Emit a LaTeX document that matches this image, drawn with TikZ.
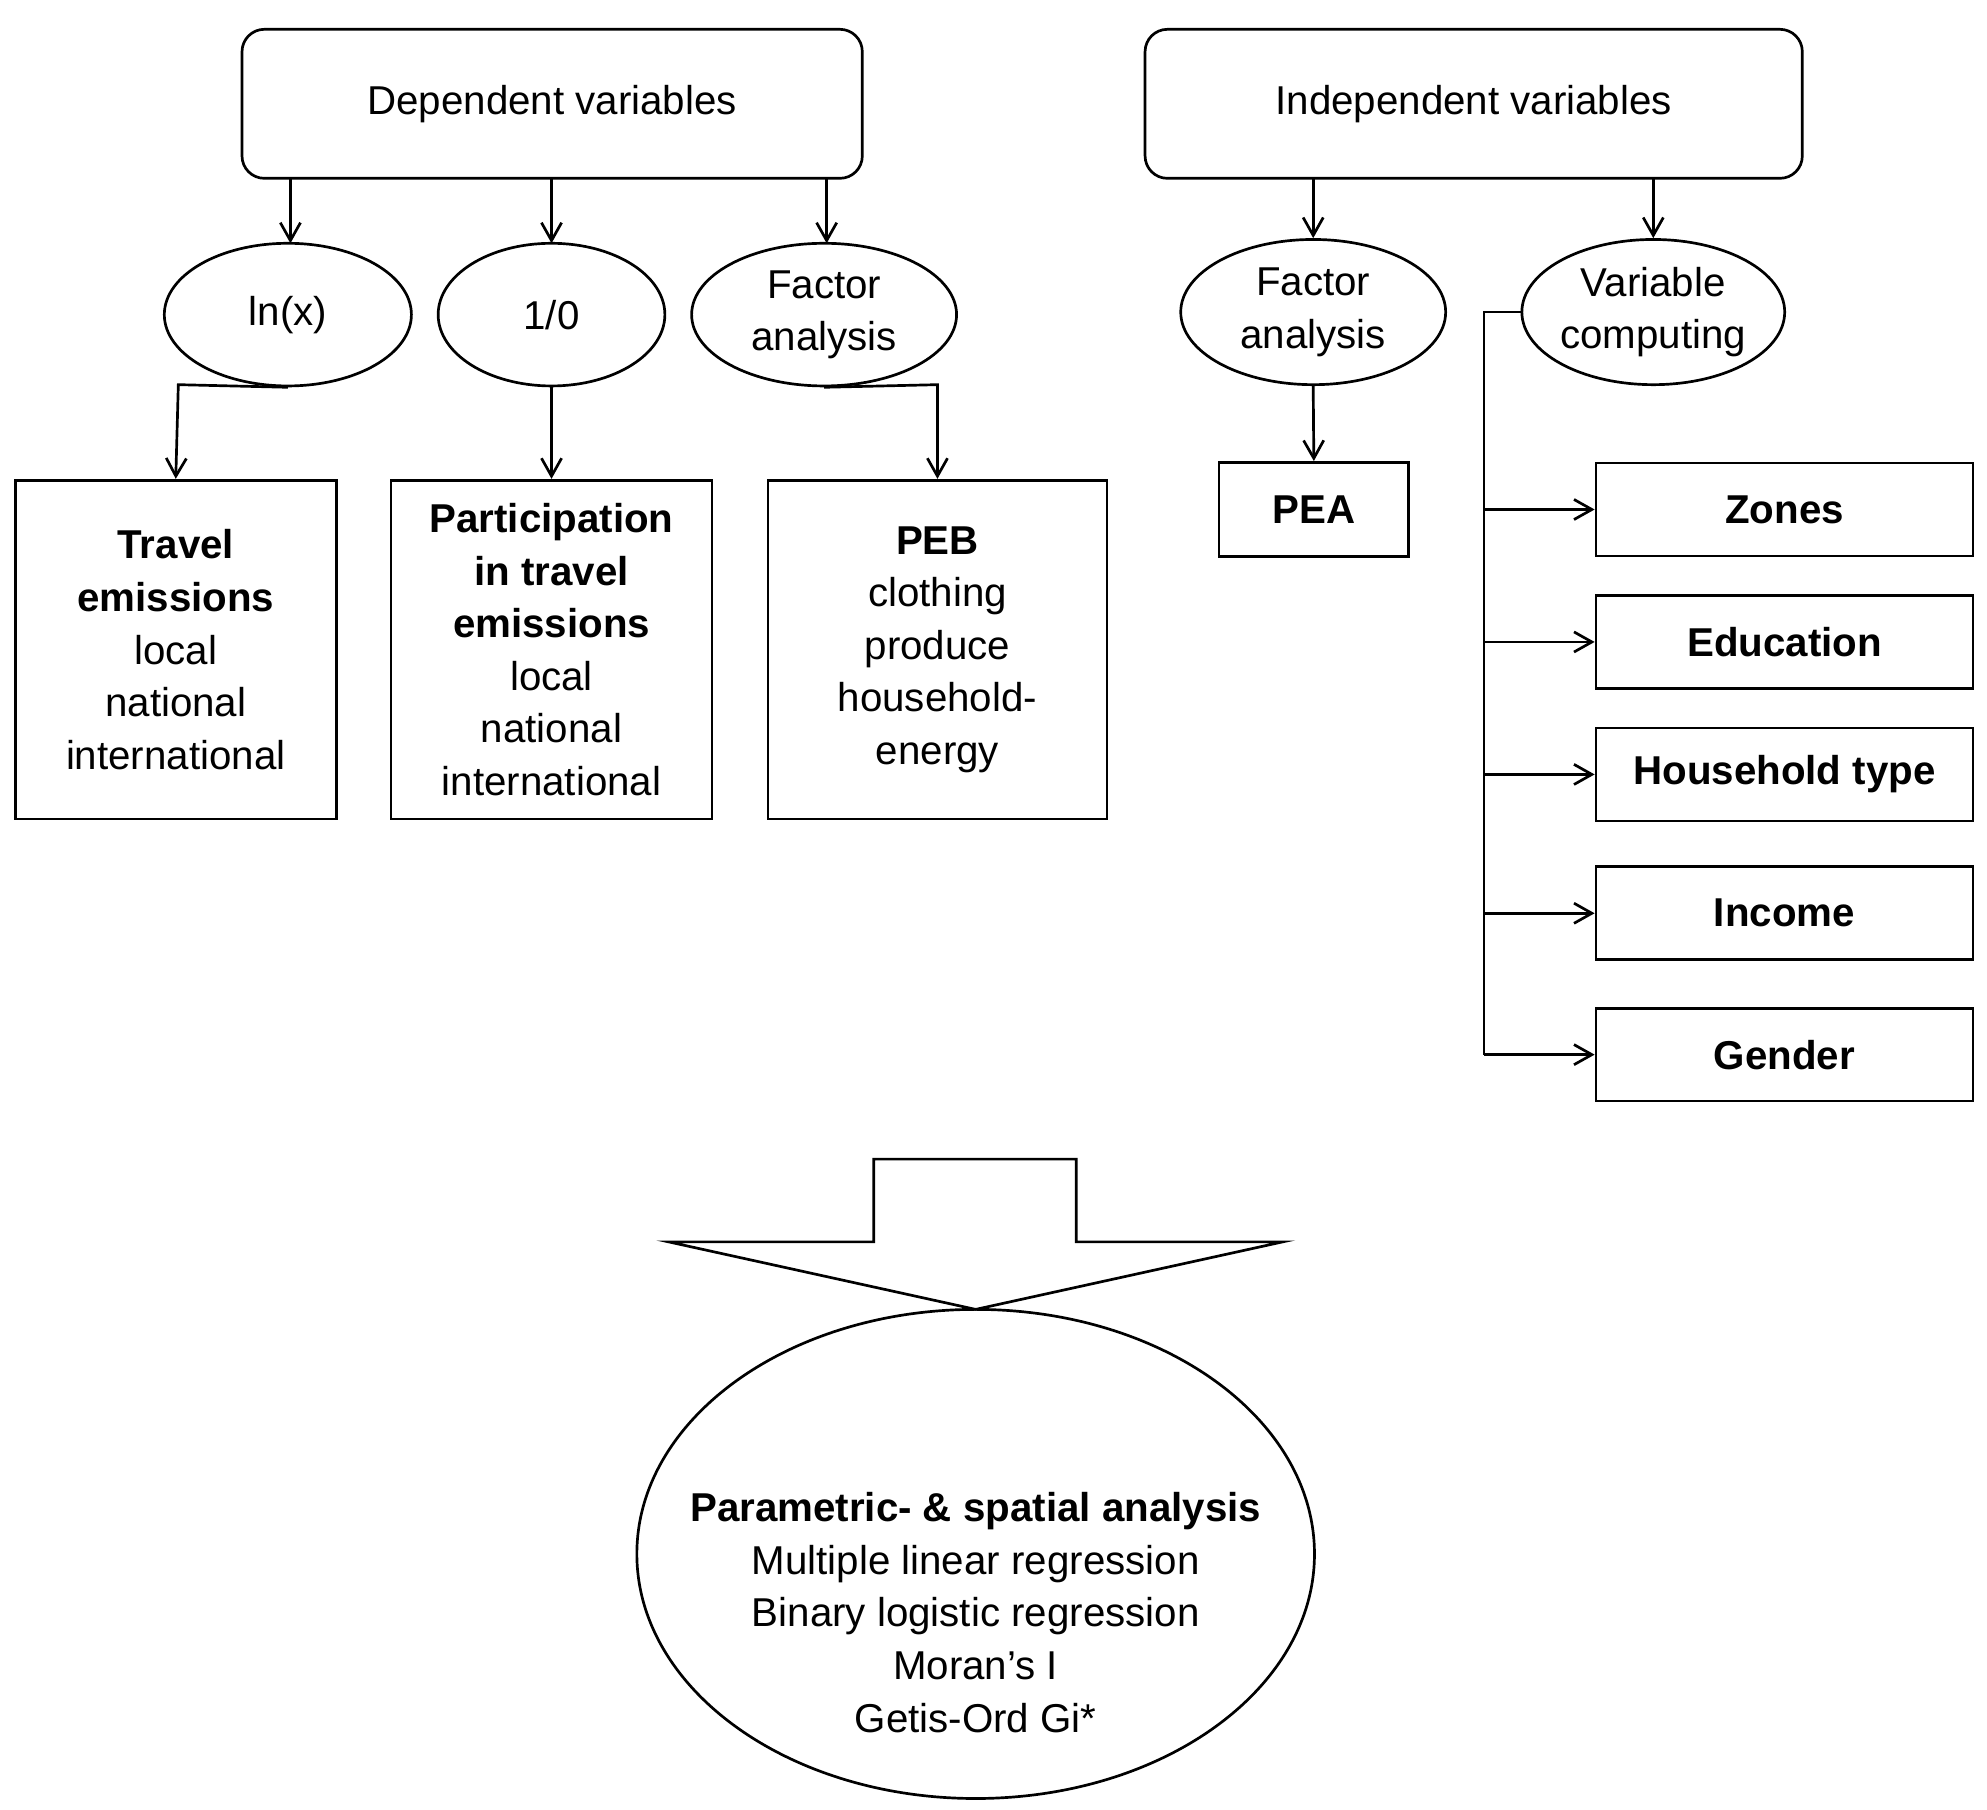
\documentclass[tikz,border=0pt]{standalone}
\usepackage{fontspec}
\setmainfont{Liberation Sans}
\usetikzlibrary{shapes.geometric,arrows.meta}
\begin{document}
\begin{tikzpicture}[x=0.02cm,y=-0.02cm,
  every node/.style={font=\fontsize{18}{23.5}\selectfont, align=center, inner sep=0pt},
  ln/.style={line width=1.2pt},
  arr/.style={ln,-{Straight Barb[length=8pt,width=9pt]}},
  ell/.style={ellipse,draw,line width=1.2pt},
  box/.style={draw,line width=1.2pt}]
\useasboundingbox (0,0) rectangle (1560,1421);
\node[box,rounded corners=10pt,minimum width=487*0.02cm,minimum height=117*0.02cm] (dep) at (433.5,81.5) {Dependent variables};
\node[box,rounded corners=10pt,minimum width=516*0.02cm,minimum height=117*0.02cm] (ind) at (1157,81.5) {Independent variables};
\node[ell,minimum width=194*0.02cm,minimum height=112*0.02cm] (e1) at (226,247) {ln(x)};
\node[ell,minimum width=178*0.02cm,minimum height=112*0.02cm] (e2) at (433,247) {1/0};
\node[ell,minimum width=208*0.02cm,minimum height=112*0.02cm] (e3) at (647,247) {Factor\\analysis};
\node[ell,minimum width=208*0.02cm,minimum height=114*0.02cm] (e4) at (1031,245) {Factor\\analysis};
\node[ell,minimum width=206*0.02cm,minimum height=114*0.02cm] (e5) at (1298,245) {Variable\\computing};
\node[box,minimum width=252*0.02cm,minimum height=266*0.02cm] (b1) at (138,510) {\textbf{Travel}\\\textbf{emissions}\\local\\national\\international};
\node[box,minimum width=252*0.02cm,minimum height=266*0.02cm] (b2) at (433,510) {\textbf{Participation}\\\textbf{in travel}\\\textbf{emissions}\\local\\national\\international};
\node[box,minimum width=266*0.02cm,minimum height=266*0.02cm] (b3) at (736,510) {\textbf{PEB}\\clothing\\produce\\household-\\energy};
\node[box,minimum width=149*0.02cm,minimum height=74*0.02cm] (pea) at (1031.5,400) {\textbf{PEA}};
\foreach \n/\t/\y in {z/Zones/400,ed/Education/504,hh/Household type/608,inc/Income/717,gen/Gender/828}
  \node[box,minimum width=296*0.02cm,minimum height=73*0.02cm] (\n) at (1401,\y) {\textbf{\t}};
\coordinate (d1) at (228,140); \coordinate (d2) at (433,140); \coordinate (d3) at (649,140);
\draw[arr] (d1) -- (228,191);
\draw[arr] (d2) -- (433,191);
\draw[arr] (d3) -- (649,191);
\draw[arr] (1031,140) -- (e4.north);
\draw[arr] (1298,140) -- (e5.north);
\draw[arr] (e1.south) -- (140,302) -- (b1.north);
\draw[arr] (e2.south) -- (b2.north);
\draw[arr] (e3.south) -- (736,302) -- (b3.north);
\draw[arr] (e4.south) -- (pea.north);
\coordinate (vc) at (1165,245);
\draw[ln] (e5.west) -- (vc) -- (1165,828);
\foreach \n in {z,ed,hh,inc,gen} \draw[arr] (1165,0 |- \n.west) -- (\n.west);
\draw[ln] (686,975) -- (686,910) -- (845,910) -- (845,975) -- (1007,975) -- (766,1028) -- (525,975) -- cycle;
\node[ell,minimum width=532*0.02cm,minimum height=384*0.02cm] (big) at (766,1220) {};
\node at (766,1266) {\textbf{Parametric- \& spatial analysis}\\Multiple linear regression\\Binary logistic regression\\Moran's I\\Getis-Ord Gi*};
\end{tikzpicture}
\end{document}
